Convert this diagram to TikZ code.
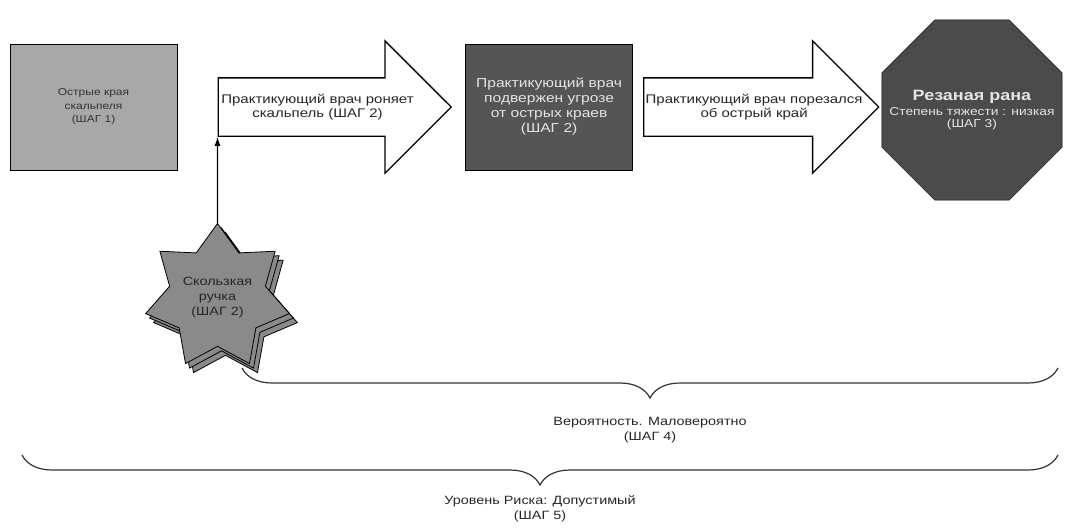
\documentclass[tikz,border=0pt]{standalone}
\usepackage{fontspec}
\setmainfont[FakeStretch=1.2]{Liberation Sans}
\usetikzlibrary{arrows.meta,%
                shapes,shadows,positioning,decorations.pathreplacing}
\definecolor{lightbox}{RGB}{168,168,168}
\definecolor{darkbox}{RGB}{85,85,85}
\definecolor{woundgray}{RGB}{75,75,75}
\definecolor{stargray}{RGB}{138,138,138}
\definecolor{paletext}{RGB}{228,228,228}

\begin{document}
\begin{tikzpicture}[x = 1pt, y = -1pt, node distance = 10pt]
  \useasboundingbox (0,0) rectangle (1065,530);
  \tikzset{BoxStyle/.style   = {shape          = rectangle,
                                draw           = black,
                                line width     = 1pt,
                                minimum width  = 167pt,
                                minimum height = 126pt,
                                align          = center}}
  \tikzset{ArrowStyle/.style = {shape          = single arrow,
                                draw           = black,
                                fill           = white,
                                line width     = 1.3pt,
                                inner sep      = 0pt,
                                inner ysep     = 28.5pt,
                                minimum width  = 131pt,
                                single arrow head extend = 37pt}}
  \tikzset{TextStyle/.style  = {align          = center,
                                text           = black!85,
                                font           = \fontsize{12}{15}\selectfont}}
  \tikzset{StarStyle/.style  = {shape          = star,
                                star points    = 7,
                                star point ratio = 1.5,
                                minimum size   = 126pt,
                                inner sep      = 0pt,
                                draw           = black,
                                fill           = stargray,
                                line width     = 0.8pt,
                                copy shadow    = {shadow xshift = 8pt,
                                                  shadow yshift = -9pt,
                                                  fill = stargray, draw = black},
                                copy shadow    = {shadow xshift = 4pt,
                                                  shadow yshift = -4.5pt,
                                                  fill = stargray, draw = black}}}
  \tikzset{BraceStyle/.style = {decorate,
                                decoration     = {brace, amplitude = 30pt},
                                line width     = 1.2pt,
                                draw           = black!80}}
  \tikzset{LinkStyle/.style  = {line width     = 1.2pt,
                                -{Latex[length = 9pt, width = 6pt]}}}
     \node[BoxStyle, fill = lightbox, font = \fontsize{10}{13.5}\selectfont,
           text = black!80] (edges) at (93.5,107)
           {Острые края\\скальпеля\\(ШАГ 1)};
     \node[ArrowStyle, minimum height = 233pt, right = 40pt of edges] (drop) {};
     \node[TextStyle, font = \fontsize{12.5}{14}\selectfont] (droptext)
           at ([xshift = 100pt]drop.tail)
           {Практикующий врач роняет\\скальпель (ШАГ 2)};
     \node[BoxStyle, fill = darkbox, text = paletext,
           font = \fontsize{13}{15}\selectfont, right = 13pt of drop] (threat)
           {Практикующий врач\\подвержен угрозе\\от острых краев\\(ШАГ 2)};
     \node[ArrowStyle, minimum height = 235pt, right = 10pt of threat] (cut) {};
     \node[TextStyle, font = \fontsize{12.5}{14}\selectfont] (cuttext)
           at ([xshift = 111pt]cut.tail)
           {Практикующий врач порезался\\об острый край};
     \node[shape = regular polygon, regular polygon sides = 8,
           minimum size = 195pt, inner xsep = -22pt, inner ysep = 0pt,
           draw = black, fill = woundgray, text = paletext, align = center,
           font = \fontsize{11.5}{12}\selectfont, right = 2pt of cut,
           yshift = -3pt] (wound)
           {{\bfseries\fontsize{15}{18}\selectfont Резаная рана}\\[3pt]
            Степень тяжести : низкая\\(ШАГ 3)};
     \node[StarStyle, TextStyle, below = 86pt of drop.before tail] (slip)
           {Скользкая\\ручка\\(ШАГ 2)};
     \draw[LinkStyle] (slip) -- (drop.before tail);
     % braces
     \coordinate (likelyL) at (242,368);
     \coordinate (likelyR) at (1058,368);
     \coordinate (riskL) at (22,455);
     \coordinate (riskR) at (1058,455);
     \draw[BraceStyle] (likelyR) -- (likelyL);
     \node[TextStyle] (likely) at (650,430) {Вероятность. Маловероятно\\(ШАГ 4)};
     \draw[BraceStyle] (riskR) -- (riskL);
     \node[TextStyle] (risk) at (540,509) {Уровень Риска: Допустимый\\(ШАГ 5)};
\end{tikzpicture}
\end{document}
